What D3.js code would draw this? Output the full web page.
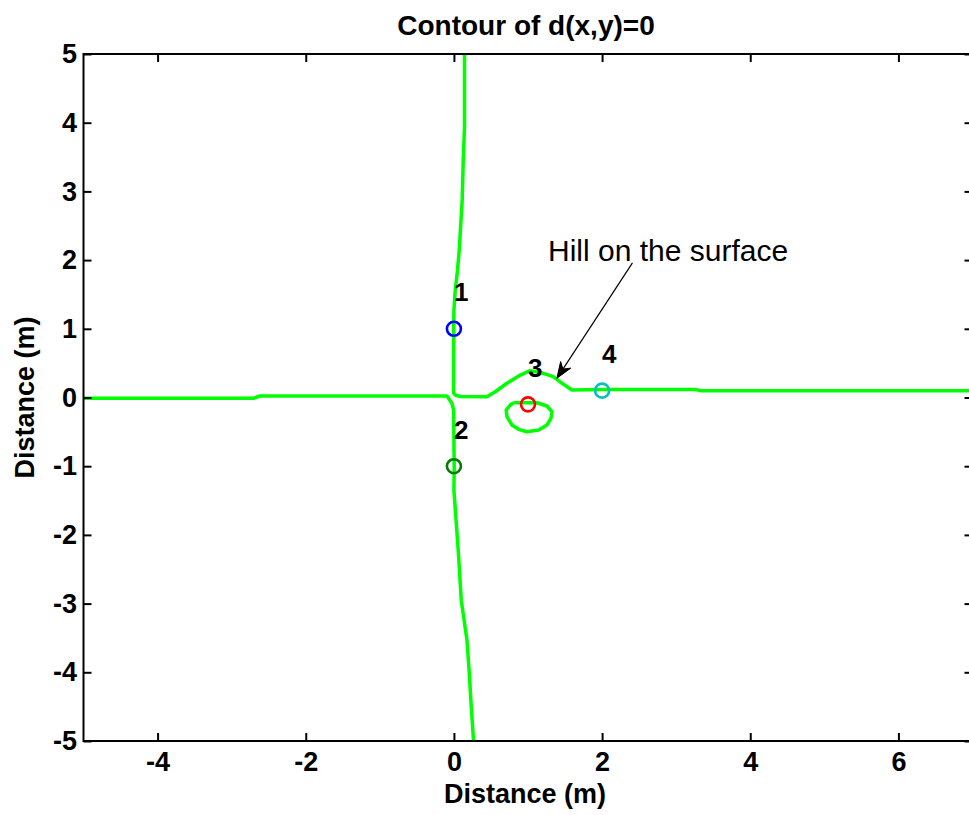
<!DOCTYPE html>
<html>
<head>
<meta charset="utf-8">
<script src="https://cdn.jsdelivr.net/npm/d3@7/dist/d3.min.js"></script>
<style>
  html, body { margin: 0; padding: 0; background: #fff; }
  svg { display: block; }
  text { font-family: "Liberation Sans", Arial, Helvetica, sans-serif; }
</style>
</head>
<body>
<svg id="chart" width="969" height="815"></svg>
<script>
// ---------------- data ----------------
const xTicks = [-4, -2, 0, 2, 4, 6];
const yTicks = [-5, -4, -3, -2, -1, 0, 1, 2, 3, 4, 5];
const xDomain = [-5, 7];
const yDomain = [-5, 5];

// contour d(x,y)=0 : upper vertical branch joined with the hill branch to the right
const contourUpperRight = [
  [0.143, 5.0], [0.143, 3.94], [0.126, 3.46], [0.112, 2.88], [0.072, 2.15],
  [0.049, 1.86], [0.018, 1.56], [0.0, 1.27], [-0.003, 0.98], [-0.005, 0.066],
  [0.018, 0.036], [0.085, 0.015], [0.446, 0.012], [0.558, 0.084], [0.716, 0.207],
  [0.895, 0.327], [1.03, 0.39], [1.206, 0.352], [1.341, 0.303], [1.459, 0.207],
  [1.594, 0.109], [1.976, 0.116], [3.26, 0.116], [3.33, 0.10], [7.0, 0.10]
];
// left branch joined with the lower vertical branch
const contourLeftLower = [
  [-5.0, -0.012], [-2.71, -0.012], [-2.62, 0.022], [-0.095, 0.022], [-0.027, -0.084],
  [-0.005, -0.18], [0.004, -1.0], [0.0, -1.35], [0.058, -2.22], [0.099, -2.95],
  [0.176, -3.53], [0.207, -4.01], [0.234, -4.5], [0.265, -5.0]
];
// small closed loop under the hill
const contourLoop = [
  [0.805, -0.076], [1.121, -0.076], [1.256, -0.124], [1.324, -0.207], [1.31, -0.303],
  [1.256, -0.40], [1.143, -0.473], [0.986, -0.498], [0.873, -0.463], [0.783, -0.40],
  [0.716, -0.279], [0.706, -0.182], [0.76, -0.109], [0.805, -0.076]
];

const markerX = [0, 0, 1, 2];
const markerY = [1, -1, -0.1, 0.1];
const markerLabels = ["1", "2", "3", "4"];
const markerColors = ["#0000ff", "#007f00", "#ff0000", "#00bfbf"];

const annotationText = "Hill on the surface";
const annotationTextPos = [1.27, 1.98];
const arrowFrom = [2.41, 1.96];
const arrowTo = [1.39, 0.28];

const titleText = "Contour of d(x,y)=0";
const xLabelText = "Distance (m)";
const yLabelText = "Distance (m)";

// ---------------- layout ----------------
const L = 83.5, R = 972.5, T = 54, B = 741;
const svg = d3.select("#chart");
const x = d3.scaleLinear().domain(xDomain).range([L, R]);
const y = d3.scaleLinear().domain(yDomain).range([B, T]);

svg.append("rect").attr("width", 969).attr("height", 815).attr("fill", "#fff");

// contour lines
const line = d3.line().x(d => x(d[0])).y(d => y(d[1]));
[contourUpperRight, contourLeftLower, contourLoop].forEach(c => {
  svg.append("path").attr("d", line(c)).attr("fill", "none")
    .attr("stroke", "#00ff00").attr("stroke-width", 3.5)
    .attr("stroke-linejoin", "round").attr("stroke-linecap", "butt");
});

// axes
function styleAxis(g) {
  g.select(".domain").remove();
  g.selectAll(".tick line").attr("stroke", "#000").attr("stroke-width", 2);
  g.selectAll(".tick text").attr("fill", "#000")
    .style("font-size", "27px").style("font-weight", "bold");
}
svg.append("g").attr("transform", `translate(0,${B})`)
  .call(d3.axisBottom(x).tickValues(xTicks).tickSizeInner(-8).tickSizeOuter(0).tickPadding(11).tickFormat(d3.format("d")))
  .call(styleAxis);
svg.append("g").attr("transform", `translate(0,${T})`)
  .call(d3.axisTop(x).tickValues(xTicks).tickSizeInner(-8).tickSizeOuter(0).tickFormat(""))
  .call(styleAxis);
svg.append("g").attr("transform", `translate(${L},0)`)
  .call(d3.axisLeft(y).tickValues(yTicks).tickSizeInner(-8).tickSizeOuter(0).tickPadding(6.5).tickFormat(d3.format("d")))
  .call(styleAxis);
svg.append("g").attr("transform", `translate(${R},0)`)
  .call(d3.axisRight(y).tickValues(yTicks).tickSizeInner(-8).tickSizeOuter(0).tickFormat(""))
  .call(styleAxis);
svg.selectAll("text").filter(function(){ return this.textContent.startsWith("−"); })
  .text(function(){ return this.textContent.replace("−", "-"); });

svg.append("rect").attr("x", L).attr("y", T).attr("width", R - L).attr("height", B - T)
  .attr("fill", "none").attr("stroke", "#000").attr("stroke-width", 2);

// markers
markerX.forEach((mx, i) => {
  svg.append("circle").attr("cx", x(mx)).attr("cy", y(markerY[i])).attr("r", 7)
    .attr("fill", "none").attr("stroke", markerColors[i]).attr("stroke-width", 2.6);
  svg.append("text").attr("x", x(mx)).attr("y", y(markerY[i] + 0.5))
    .attr("dominant-baseline", "middle")
    .style("font-size", "26px").style("font-weight", "bold").attr("fill", "#000")
    .text(markerLabels[i]);
});

// annotation
svg.append("text").attr("x", x(annotationTextPos[0])).attr("y", y(annotationTextPos[1]))
  .style("font-size", "30px").attr("fill", "#000").text(annotationText);
const ax0 = x(arrowFrom[0]), ay0 = y(arrowFrom[1]), ax1 = x(arrowTo[0]), ay1 = y(arrowTo[1]);
const ang = Math.atan2(ay1 - ay0, ax1 - ax0);
const hl = 16, hw = 6, notch = 11;
const ux = Math.cos(ang), uy = Math.sin(ang), px = -uy, py = ux;
svg.append("line").attr("x1", ax0).attr("y1", ay0)
  .attr("x2", ax1 - ux * notch).attr("y2", ay1 - uy * notch)
  .attr("stroke", "#000").attr("stroke-width", 1.2);
svg.append("path").attr("d",
  `M${ax1},${ay1} L${ax1 - ux*hl + px*hw},${ay1 - uy*hl + py*hw} L${ax1 - ux*notch},${ay1 - uy*notch} L${ax1 - ux*hl - px*hw},${ay1 - uy*hl - py*hw} Z`)
  .attr("fill", "#000").attr("stroke", "#000").attr("stroke-width", 1);

// titles
svg.append("text").attr("x", (L + R) / 2 - 2).attr("y", 35).attr("text-anchor", "middle")
  .style("font-size", "28px").style("font-weight", "bold").text(titleText);
svg.append("text").attr("x", (L + R) / 2 - 3).attr("y", 803).attr("text-anchor", "middle")
  .style("font-size", "27px").style("font-weight", "bold").text(xLabelText);
svg.append("text").attr("transform", `translate(34,${(T + B) / 2}) rotate(-90)`).attr("text-anchor", "middle")
  .style("font-size", "27px").style("font-weight", "bold").text(yLabelText);
</script>
</body>
</html>
